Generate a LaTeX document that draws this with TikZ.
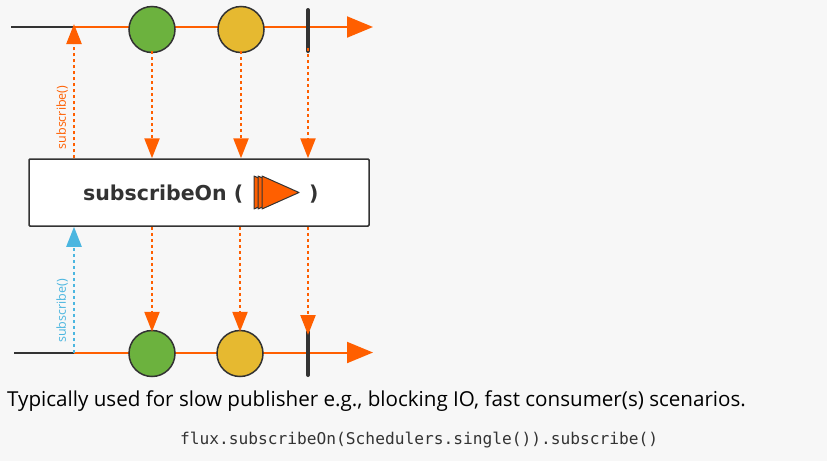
\documentclass[tikz,border=0pt]{standalone}
\usepackage{fontspec}
\setmainfont{Open Sans}
\newfontfamily\titlefont{DejaVu Sans}
\setmonofont{DejaVu Sans Mono}
\usetikzlibrary{arrows.meta}
\definecolor{rxorange}{HTML}{FF5F00}
\definecolor{rxgreen}{HTML}{6CB23E}
\definecolor{rxyellow}{HTML}{E6B930}
\definecolor{rxdark}{HTML}{333333}
\definecolor{rxblue}{HTML}{4BB6E0}
\definecolor{rxbg}{HTML}{F7F7F7}
\tikzset{
  marble/.style={circle, draw=rxdark, line width=1.5pt, minimum size=46pt, inner sep=0pt},
  timeline/.style={rxorange, line width=2pt, -{Triangle[length=26pt,width=21pt]}},
  preline/.style={rxdark, line width=2pt},
  endbar/.style={rxdark, line width=4pt, line cap=round},
  emit/.style={rxorange, line width=2.4pt, dash pattern=on 3pt off 3pt, -{Triangle[length=20pt,width=15pt]}},
  subup/.style={line width=2.4pt, dash pattern=on 3pt off 3pt, -{Triangle[length=20pt,width=15pt]}},
  sublabel/.style={rotate=90, font=\fontsize{12.5}{14}\selectfont, inner sep=0pt},
  optbox/.style={draw=rxdark, fill=white, line width=1.5pt, minimum width=340pt, minimum height=67pt, rounded corners=1pt},
  sched/.style={fill=rxorange, draw=rxdark, line width=1pt, line join=round}
}
\begin{document}
\begin{tikzpicture}[x=1pt,y=-1pt]
\fill[rxbg] (0,0) rectangle (827,461);
\useasboundingbox (0,0) rectangle (827,461);
% top timeline
\coordinate (ts) at (11,27);
\coordinate (tsub) at (74,27);
\coordinate (te) at (373,27);
\draw[preline] (ts) -- (tsub);
\draw[timeline] (tsub) -- (te);
\node[marble, fill=rxgreen] (g1) at (152,29.5) {};
\node[marble, fill=rxyellow] (y1) at (241,29.5) {};
\coordinate (b1t) at (308,10);
\coordinate (b1b) at (308,51);
\draw[endbar] (b1t) -- (b1b);
% operator box
\node[optbox] (op) at (199,192.5) {};
\node[anchor=base west, inner sep=0pt, text=rxdark, font=\titlefont\bfseries\fontsize{20.5}{22}\selectfont] (title) at (83,200) {subscribeOn (};
\node[anchor=base west, inner sep=0pt, text=rxdark, font=\titlefont\bfseries\fontsize{20.5}{22}\selectfont] (close) at (309,200) {)};
\foreach \i in {0,4,8}{
  \filldraw[sched] (254+\i,176) -- (291+\i,192.5) -- (254+\i,209) -- cycle;
}
% top emissions
\draw[emit] ([yshift=2pt]g1.south) -- (g1 |- op.north);
\draw[emit] ([yshift=2pt]y1.south) -- (y1 |- op.north);
\draw[emit] ([yshift=3pt]b1b) -- (b1b |- op.north);
% subscribe up (top)
\draw[subup, rxorange] (tsub |- op.north) -- ([yshift=3pt]tsub);
\node[sublabel, text=rxorange] (lab1) at (62,117.5) {subscribe()};
% bottom timeline
\coordinate (bs) at (14,352.5);
\coordinate (bsub) at (74,352.5);
\coordinate (be) at (373,352.5);
\draw[preline] (bs) -- (bsub);
\draw[timeline] (bsub) -- (be);
\node[marble, fill=rxgreen] (g2) at (152,353.5) {};
\node[marble, fill=rxyellow] (y2) at (240,353.5) {};
\coordinate (b2t) at (308,332);
\coordinate (b2b) at (308,375);
\draw[endbar] (b2t) -- (b2b);
\draw[emit] (g2 |- op.south) -- ([yshift=-2pt]g2.north);
\draw[emit] (y2 |- op.south) -- ([yshift=-2pt]y2.north);
\draw[emit] (b2t |- op.south) -- ([yshift=-3pt]b2t);
% subscribe up (bottom)
\draw[subup, rxblue] (bsub) -- (bsub |- op.south);
\node[sublabel, text=rxblue] (lab2) at (62,311) {subscribe()};
% caption
\node[anchor=base west, inner sep=0pt, text=black, font=\fontsize{20.6}{24}\selectfont] (cap) at (7,406.7) {Typically used for slow publisher e.g., blocking IO, fast consumer(s) scenarios.};
\node[anchor=base west, inner sep=0pt, text=rxdark, font=\ttfamily\fontsize{16.2}{18}\selectfont] (code) at (180,444) {flux.subscribeOn(Schedulers.single()).subscribe()};
\end{tikzpicture}
\end{document}
